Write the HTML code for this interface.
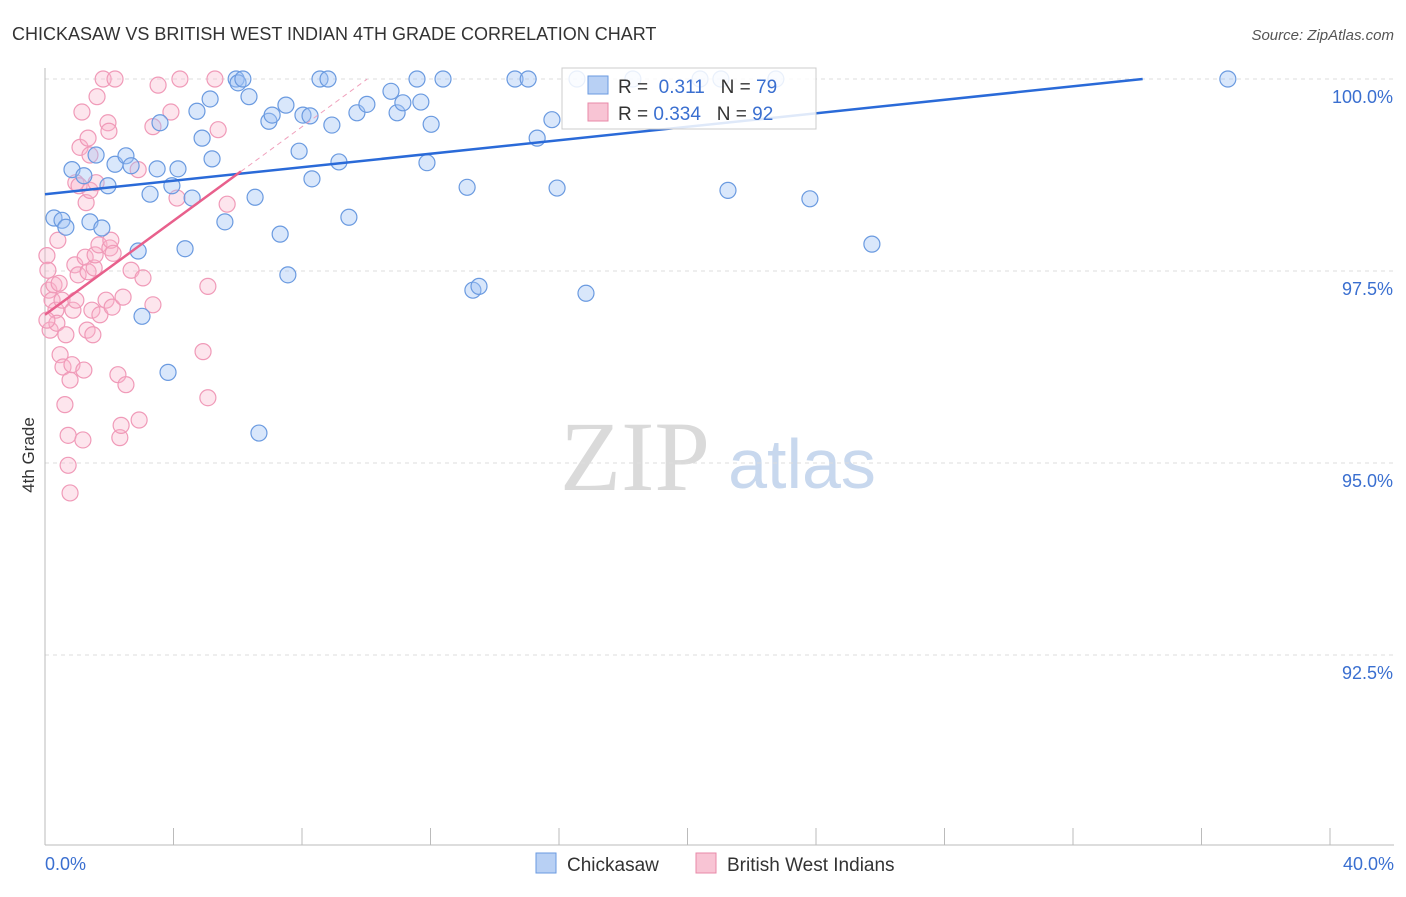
<!DOCTYPE html>
<html><head><meta charset="utf-8"><style>
body{margin:0;background:#fff;font-family:"Liberation Sans",sans-serif;}
</style></head><body>
<svg id="chart" width="1406" height="892" xmlns="http://www.w3.org/2000/svg" font-family="Liberation Sans, sans-serif">
<text x="12" y="40" font-size="18" fill="#333">CHICKASAW VS BRITISH WEST INDIAN 4TH GRADE CORRELATION CHART</text>
<text x="1394" y="40" font-size="15" fill="#555" font-style="italic" text-anchor="end">Source: ZipAtlas.com</text>
<text x="34" y="455" font-size="17" fill="#333" transform="rotate(-90 34 455)" text-anchor="middle">4th Grade</text>
<g><text x="635" y="490" font-size="100" fill="#dadada" style="font-family:'Liberation Serif',serif" text-anchor="middle">ZIP</text><text x="802" y="488" font-size="70" fill="#c8d8ee" text-anchor="middle">atlas</text></g>
<g id="grid"></g><g id="axes"></g><g id="pts"></g><g id="lines"></g>
<g>
<rect x="562" y="68" width="254" height="61" fill="#fff" fill-opacity="0.85" stroke="#ccc"/>
<rect x="588" y="76" width="20" height="18" fill="#b8d0f4" stroke="#6a9ae0"/>
<text x="618" y="93" font-size="19" fill="#333">R = <tspan fill="#3a6fd0">&#160;0.311</tspan>&#160;&#160;&#160;N = <tspan fill="#3a6fd0">79</tspan></text>
<rect x="588" y="103" width="20" height="18" fill="#f8c4d4" stroke="#e88aa8"/>
<text x="618" y="120" font-size="19" fill="#333">R = <tspan fill="#3a6fd0">0.334</tspan>&#160;&#160;&#160;N = <tspan fill="#3a6fd0">92</tspan></text>
</g>
<g>
<rect x="536" y="853" width="20" height="20" fill="#b8d0f4" stroke="#6a9ae0"/>
<text x="567" y="871" font-size="19" fill="#333">Chickasaw</text>
<rect x="696" y="853" width="20" height="20" fill="#f8c4d4" stroke="#e88aa8"/>
<text x="727" y="871" font-size="19" fill="#333">British West Indians</text>
</g>
</svg>
<script>
const blueX=[0.28,0.53,0.65,0.84,1.21,1.40,1.59,1.77,1.96,2.18,2.52,2.68,2.90,3.02,3.27,3.49,3.58,3.83,3.95,4.14,4.36,4.58,4.73,4.89,5.14,5.20,5.60,5.95,6.01,6.16,6.35,6.54,6.66,6.97,7.07,7.32,7.50,7.56,7.91,8.03,8.25,8.31,8.56,8.81,8.93,9.15,9.46,9.71,10.02,10.77,10.96,11.14,11.58,11.70,11.89,12.02,12.39,13.14,13.32,13.51,14.63,15.04,15.32,15.78,15.94,16.56,16.84,18.30,20.39,21.04,21.26,22.75,23.81,25.74,36.82];
const blueY=[98.19,98.16,98.07,98.82,98.74,98.14,99.01,98.06,98.61,98.89,99.00,98.87,97.76,96.91,98.50,98.83,99.43,96.18,98.61,98.83,97.79,98.45,99.58,99.23,99.74,98.96,98.14,100,99.95,100,99.77,98.46,95.39,99.45,99.53,97.98,99.66,97.45,99.06,99.53,99.52,98.70,100,100,99.40,98.92,98.20,99.56,99.67,99.84,99.56,99.69,100,99.70,98.91,99.41,100,98.59,97.25,97.30,100,100,99.23,99.47,98.58,100,97.21,100,100,100,98.55,100,98.44,97.85,100];
const pinkX=[0.06,0.09,0.12,0.16,0.22,0.28,0.34,0.37,0.44,0.47,0.53,0.56,0.62,0.65,0.72,0.72,0.78,0.78,0.84,0.87,0.93,0.96,0.96,1.03,1.06,1.09,1.15,1.18,1.21,1.25,1.28,1.31,1.34,1.34,1.40,1.40,1.46,1.49,1.53,1.56,1.59,1.62,1.68,1.71,1.81,1.90,1.96,1.99,2.02,2.05,2.09,2.12,2.18,2.27,2.33,2.37,2.43,2.52,2.68,2.90,2.93,3.05,3.36,3.36,3.52,3.92,4.20,4.11,4.92,5.07,5.07,5.29,5.39,5.67,0.40,0.06];
const pinkY=[97.70,97.51,97.25,96.73,97.12,97.32,96.99,96.82,97.34,96.41,97.12,96.25,95.76,96.67,95.36,94.97,96.08,94.61,96.28,96.99,97.58,97.12,98.65,97.45,98.61,99.11,99.57,95.30,96.21,97.68,98.39,96.73,97.49,99.23,99.01,98.55,96.99,96.67,97.54,97.71,98.65,99.77,97.84,96.93,100,97.12,99.43,99.32,97.80,97.90,97.03,97.73,100,96.15,95.33,95.49,97.16,96.02,97.51,98.82,95.56,97.41,97.06,99.38,99.92,99.57,100,98.45,96.45,97.30,95.85,100,99.34,98.37,97.90,96.86];
const yTicks=[100,97.5,95,92.5];
const yTickLabels=["100.0%","97.5%","95.0%","92.5%"];
const xTickCount=[0,4,8,12,16,20,24,28,32,36,40];
const xLabels=["0.0%","40.0%"];
const blueLine=[98.5,0.0439];
const pinkLine=[96.93,0.306];
const X=v=>45+v*32.125, Y=v=>79+(100-v)*76.8;
const NS="http://www.w3.org/2000/svg";
function mk(tag,attrs,parent){const e=document.createElementNS(NS,tag);for(const k in attrs)e.setAttribute(k,attrs[k]);parent.appendChild(e);return e;}
const grid=document.getElementById('grid'),axes=document.getElementById('axes'),pts=document.getElementById('pts'),lines=document.getElementById('lines');
yTicks.forEach((t,i)=>{
 const l=mk('line',{x1:45,x2:1394,y1:Y(t),y2:Y(t),stroke:'#ddd','stroke-dasharray':'4,4'},grid);
 
 
 const tx=mk('text',{x:1393,y:Y(t)+24,'font-size':18,fill:'#3a6fd0','text-anchor':'end'},axes);tx.textContent=yTickLabels[i];
 
 
});
const xa=mk('line',{x1:45,x2:1394,y1:845,y2:845,stroke:'#bbb'},axes);


const ya=mk('line',{x1:45,x2:45,y1:68,y2:845,stroke:'#bbb'},axes);


xTickCount.forEach(t=>{const l=mk('line',{x1:X(t),x2:X(t),y1:828,y2:845,stroke:'#bbb'},axes);
 
 });
[[0,'start',45],[40,'end',1394]].forEach((a,i)=>{const t=mk('text',{x:a[2],y:870,'font-size':18,fill:'#3a6fd0','text-anchor':a[1]},axes);t.textContent=xLabels[i];
 
 });
pinkX.forEach((x,i)=>{const c=mk('circle',{cx:X(x),cy:Y(pinkY[i]),r:8,fill:'rgba(248,180,204,0.35)',stroke:'#f09ab8','stroke-width':1.2},pts);
 
 });
blueX.forEach((x,i)=>{const c=mk('circle',{cx:X(x),cy:Y(blueY[i]),r:8,fill:'rgba(160,196,244,0.4)',stroke:'#6a9ae0','stroke-width':1.2},pts);
 
 });
const bEnd=(100-blueLine[0])/blueLine[1];
const bl=mk('line',{x1:X(0),y1:Y(blueLine[0]),x2:X(bEnd),y2:Y(100),stroke:'#2a6ad8','stroke-width':2.5},lines);


const pEnd=(100-pinkLine[0])/pinkLine[1];
const pl=mk('line',{x1:X(0),y1:Y(pinkLine[0]),x2:X(6.1),y2:Y(pinkLine[0]+pinkLine[1]*6.1),stroke:'#e8608c','stroke-width':2.5},lines);


const pd=mk('line',{x1:X(6.1),y1:Y(pinkLine[0]+pinkLine[1]*6.1),x2:X(pEnd),y2:Y(100),stroke:'#f0a0bc','stroke-width':1,'stroke-dasharray':'5,4'},lines);


</script>
</body></html>
